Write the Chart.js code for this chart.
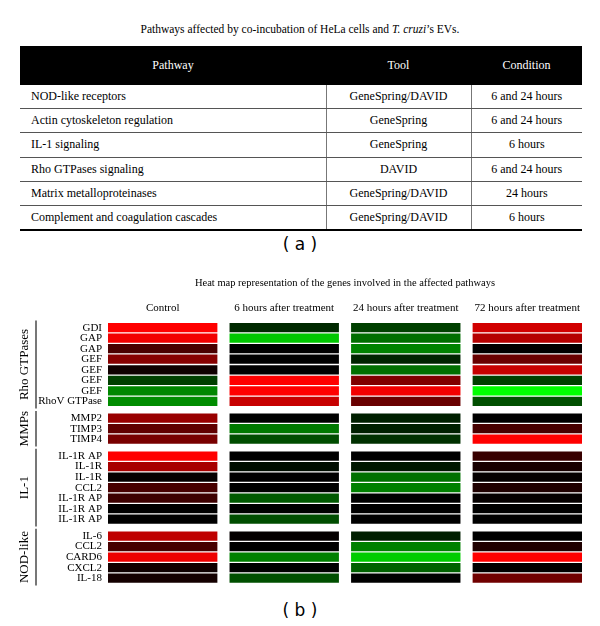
<!DOCTYPE html>
<html><head><meta charset="utf-8">
<script src="https://cdn.jsdelivr.net/npm/chart.js@4.4.1/dist/chart.umd.min.js"></script>
<style>
html,body{margin:0;padding:0;background:#fff;}
body{width:600px;height:626px;position:relative;overflow:hidden;font-family:"Liberation Serif","Times New Roman",serif;color:#000;}
#ttl{position:absolute;top:23px;left:0;width:600px;text-align:center;font-size:11.5px;}
table{position:absolute;left:20px;top:46px;width:562px;border-collapse:collapse;font-size:12px;table-layout:fixed;}
th{background:#000;color:#fff;font-weight:normal;height:39px;padding:0;}
td{height:23.2px;padding:0;border-bottom:1px solid #555;}
td.c1{padding-left:11px;text-align:left;}
td.c2,td.c3{text-align:center;border-left:1px solid #777;}
tr:last-child td{border-bottom:2px solid #000;}
.lab{position:absolute;left:0;width:600px;text-align:center;font-family:"DejaVu Sans",sans-serif;font-size:17px;line-height:20px;}
#cv{position:absolute;left:0;top:265px;}
</style></head>
<body>
<div id="ttl"></div>
<table id="tbl"><colgroup><col style="width:306px"><col style="width:145px"><col style="width:111px"></colgroup><thead><tr id="hdr"></tr></thead><tbody id="tb"></tbody></table>
<div class="lab" style="top:234px">( a )</div>
<canvas id="cv" width="600" height="331"></canvas>
<div class="lab" style="top:600px">( b )</div>
<script>
// ---------- Table (a) ----------
const tableHeaders = ['Pathway', 'Tool', 'Condition'];
const pathways = ['NOD-like receptors', 'Actin cytoskeleton regulation', 'IL-1 signaling', 'Rho GTPases signaling', 'Matrix metalloproteinases', 'Complement and coagulation cascades'];
const tools = ['GeneSpring/DAVID', 'GeneSpring', 'GeneSpring', 'DAVID', 'GeneSpring/DAVID', 'GeneSpring/DAVID'];
const conditions = ['6 and 24 hours', '6 and 24 hours', '6 hours', '6 and 24 hours', '24 hours', '6 hours'];

document.getElementById('ttl').innerHTML = 'Pathways affected by co-incubation of HeLa cells and <i>T. cruzi</i>\u2019s EVs.';
const hdr = document.getElementById('hdr');
tableHeaders.forEach(h => { const th = document.createElement('th'); th.textContent = h; hdr.appendChild(th); });
const tb = document.getElementById('tb');
pathways.forEach((p, i) => {
  const tr = document.createElement('tr');
  [[p, 'c1'], [tools[i], 'c2'], [conditions[i], 'c3']].forEach(([t, c]) => {
    const td = document.createElement('td'); td.className = c; td.textContent = t; tr.appendChild(td);
  });
  tb.appendChild(tr);
});

// ---------- Heat map (b) ----------
const heatTitle = 'Heat map representation of the genes involved in the affected pathways';
const columns = ['Control', '6 hours after treatment', '24 hours after treatment', '72 hours after treatment'];
const groups = ['Rho GTPases', 'MMPs', 'IL-1', 'NOD-like'];
const rhoGenes = ['GDI', 'GAP', 'GAP', 'GEF', 'GEF', 'GEF', 'GEF', 'RhoV GTPase'];
const mmpGenes = ['MMP2', 'TIMP3', 'TIMP4'];
const il1Genes = ['IL-1R AP', 'IL-1R', 'IL-1R', 'CCL2', 'IL-1R AP', 'IL-1R AP', 'IL-1R AP'];
const nodGenes = ['IL-6', 'CCL2', 'CARD6', 'CXCL2', 'IL-18'];

// expression level: +1 = full red (up), -1 = full green (down), 0 = black
// order: Rho GTPases (8) | MMPs (3) | IL-1 (7) | NOD-like (5)
const controlValues = [1.0, 0.95, 0.29, 0.53, 0.06, -0.25, -0.53, -0.55,
                       0.6, 0.38, 0.47,
                       1.0, 0.66, 0.02, 0.28, 0.24, 0.0, 0.0,
                       0.75, 0.28, 0.93, 0.06, 0.08];
const h6Values = [-0.16, -0.78, 0.0, 0.0, 0.0, 1.0, 1.0, 0.78,
                  0.0, -0.47, -0.3,
                  0.0, -0.05, 0.0, 0.0, -0.35, 0.0, -0.3,
                  0.02, 0.0, -0.5, 0.0, -0.31];
const h24Values = [-0.25, -0.43, -0.51, -0.14, -0.44, 0.5, 0.95, 0.41,
                   -0.12, -0.12, -0.19,
                   0.0, -0.09, -0.44, -0.5, 0.0, 0.0, 0.0,
                   -0.12, -0.5, -0.8, -0.38, 0.0];
const h72Values = [0.82, 0.71, 0.0, 0.41, 0.78, -0.25, -1.0, -0.31,
                   0.0, 0.28, 1.0,
                   0.22, 0.09, 0.02, 0.12, 0.02, 0.0, 0.0,
                   0.0, 0.12, 1.0, 0.0, 0.44];
const columnValues = [controlValues, h6Values, h24Values, h72Values];

function heatColor(v) {
  const k = Math.round(Math.min(1, Math.abs(v)) * 255);
  return v >= 0 ? `rgb(${k},0,0)` : `rgb(0,${k},0)`;
}

// row positions on a linear index axis, with an extra gap between groups
const GROUP_GAP = 0.6;
const groupGenes = [rhoGenes, mmpGenes, il1Genes, nodGenes];
const rowLabels = [];
const rowPos = [];
const groupRanges = [];
let pos = 0;
groupGenes.forEach((g, gi) => {
  if (gi > 0) pos += GROUP_GAP;
  const start = rowPos.length;
  g.forEach(n => { rowLabels.push(n); rowPos.push(pos); pos += 1; });
  groupRanges.push([start, rowPos.length - 1]);
});

const COLW = 0.9;
const datasets = columnValues.map((vals, c) => ({
  label: columns[c],
  data: rowPos.map(p => ({ y: p, x: [c, c + COLW] })),
  backgroundColor: vals.map(heatColor),
  borderWidth: 0,
  grouped: false,
  barPercentage: 0.88,
  categoryPercentage: 1.0
}));

const serif = '"Liberation Serif", "Times New Roman", serif';

const groupPlugin = {
  id: 'groupLabels',
  afterDraw(chart) {
    const y = chart.scales.y, ctx = chart.ctx;
    const band = Math.abs(y.getPixelForValue(1) - y.getPixelForValue(0));
    ctx.save();
    groupRanges.forEach(([s, e], gi) => {
      const top = y.getPixelForValue(rowPos[s]) - band / 2 - 2;
      const bot = y.getPixelForValue(rowPos[e]) + band / 2 + 2;
      ctx.strokeStyle = '#777';
      ctx.lineWidth = 2;
      ctx.beginPath(); ctx.moveTo(36, top); ctx.lineTo(36, bot); ctx.stroke();
      ctx.translate(25, (top + bot) / 2);
      ctx.rotate(-Math.PI / 2);
      ctx.fillStyle = '#000';
      ctx.font = '13px ' + serif;
      ctx.textAlign = 'center';
      ctx.textBaseline = 'middle';
      ctx.fillText(groups[gi], 0, 0);
      ctx.setTransform(1, 0, 0, 1, 0, 0);
    });
    ctx.restore();
  }
};

new Chart(document.getElementById('cv'), {
  type: 'bar',
  data: { datasets: datasets },
  plugins: [groupPlugin],
  options: {
    indexAxis: 'y',
    responsive: false,
    animation: false,
    layout: { padding: { left: 0, right: 18, top: 0, bottom: 3 } },
    plugins: {
      legend: { display: false },
      tooltip: { enabled: false },
      title: {
        display: true, text: heatTitle, fullSize: false, color: '#000',
        font: { family: serif, size: 10.5, weight: 'normal' },
        padding: { top: 12, bottom: 6 }
      }
    },
    scales: {
      x: {
        type: 'linear', position: 'top', min: 0, max: columns.length - 1 + COLW,
        grid: { display: false, drawTicks: false, tickLength: 0 },
        border: { display: false },
        afterBuildTicks: s => { s.ticks = columns.map((_, i) => ({ value: i + COLW / 2 })); },
        afterFit: s => { s.height = 26.8; },
        ticks: {
          autoSkip: false, maxRotation: 0, color: '#000', padding: 8,
          font: { family: serif, size: 11 },
          callback: (v, i) => columns[i]
        }
      },
      y: {
        type: 'linear', reverse: true, offset: false,
        min: -0.5, max: rowPos[rowPos.length - 1] + 0.5,
        grid: { display: false, drawTicks: false, tickLength: 0 },
        border: { display: false },
        afterBuildTicks: s => { s.ticks = rowPos.map(v => ({ value: v })); },
        afterFit: s => { s.width = 108; },
        ticks: { autoSkip: false, color: '#000', padding: 6, font: { family: serif, size: 11 },
                 callback: (v, i) => rowLabels[i] }
      }
    }
  }
});
</script>
</body></html>
